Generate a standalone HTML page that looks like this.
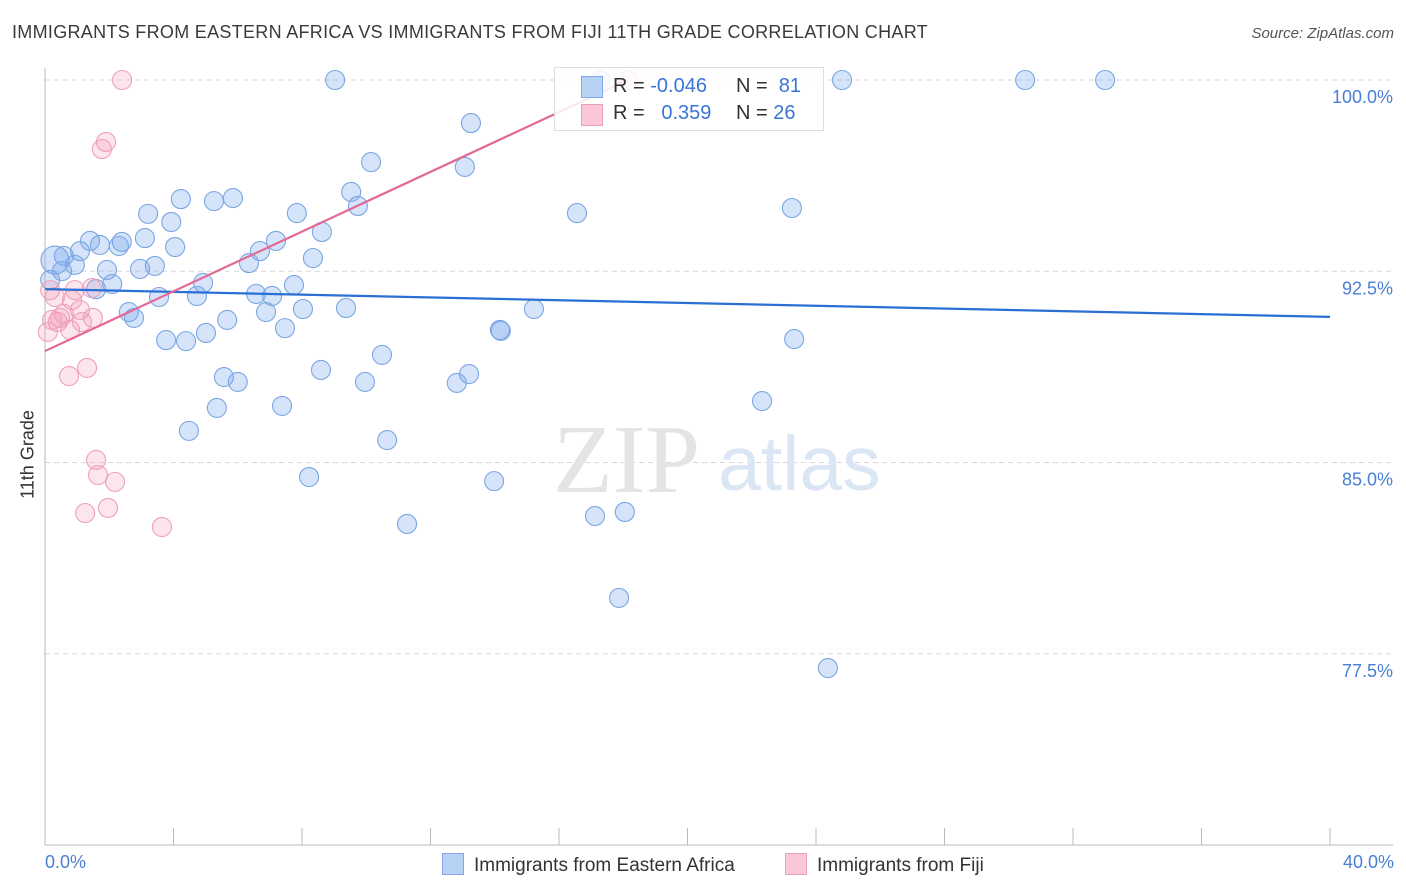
<!DOCTYPE html>
<html><head><meta charset="utf-8"><style>
body{margin:0;background:#fff;font-family:"Liberation Sans",sans-serif}
#c{position:relative;width:1406px;height:892px;overflow:hidden}
</style></head><body>
<div id="c">
<div style="position:absolute;left:12px;top:22px;font-size:18px;color:#3a3a3a;letter-spacing:0.3px;white-space:nowrap">IMMIGRANTS FROM EASTERN AFRICA VS IMMIGRANTS FROM FIJI 11TH GRADE CORRELATION CHART</div>
<div style="position:absolute;right:12px;top:25px;font-size:15px;color:#555;font-style:italic">Source: ZipAtlas.com</div>
<svg id="s" width="1406" height="892" style="position:absolute;left:0;top:0"></svg>
</div>
<script>
const yTicks=[100,92.5,85,77.5];
const yTickLabels=["100.0%","92.5%","85.0%","77.5%"];
const xTickVals=[4,8,12,16,20,24,28,32,36,40];
const blueX=[9.03,17.28,24.81,30.51,33.0,13.26,13.07,10.15,9.53,9.74,4.23,5.26,5.85,3.21,3.93,7.84,16.56,23.25,8.62,3.11,4.05,2.39,1.71,1.40,2.30,1.09,0.59,7.19,6.69,8.34,6.35,3.42,2.96,1.93,0.93,0.53,0.16,2.09,1.59,4.92,7.75,3.55,4.73,6.57,7.07,8.03,9.37,6.88,2.61,2.77,5.67,15.22,7.47,5.01,3.77,4.39,14.16,14.19,23.32,10.49,8.59,5.57,6.0,9.96,12.82,13.20,5.35,7.38,22.32,4.48,10.65,8.22,13.98,11.27,17.12,18.05,17.87,24.37];
const blueY=[100,100,100,100,100,98.31,96.59,96.78,95.61,95.06,95.33,95.25,95.37,94.75,94.43,94.78,94.78,94.98,94.04,93.80,93.45,93.65,93.53,93.69,93.49,93.29,93.10,93.69,93.29,93.02,92.82,92.71,92.59,92.55,92.75,92.51,92.16,92.0,91.80,92.04,91.96,91.49,91.53,91.61,91.53,91.02,91.06,90.90,90.90,90.67,90.59,91.02,90.27,90.08,89.80,89.76,90.20,90.16,89.84,89.22,88.63,88.35,88.16,88.16,88.12,88.47,87.14,87.22,87.41,86.24,85.88,84.43,84.27,82.59,82.90,83.06,79.69,76.94];
const pinkX=[2.40,18.15,1.90,1.77,0.16,0.31,0.93,1.46,0.84,1.09,0.59,0.40,1.49,0.09,0.78,0.47,1.31,0.75,1.59,1.65,2.18,1.25,1.96,3.64,0.22,1.15];
const pinkY=[100,100,97.57,97.29,91.76,91.49,91.76,91.84,91.37,90.98,90.82,90.51,90.67,90.12,90.20,90.67,88.71,88.39,85.10,84.51,84.24,83.02,83.22,82.47,90.59,90.51];
const blueTrendX=[0,40], blueTrendY=[91.80,90.71];
const pinkTrendX=[0,18.15], pinkTrendY=[89.37,100];
const big=[[0.31,92.94]];
const X=v=>45+v*32.125, Y=v=>80+(100-v)*25.5;
const s=document.getElementById('s'),NS='http://www.w3.org/2000/svg';
function mk(t,a){const e=document.createElementNS(NS,t);for(const k in a)e.setAttribute(k,a[k]);s.appendChild(e);return e;}
yTicks.forEach((t,i)=>{
 const g=mk('line',{x1:45,x2:1393,y1:Y(t),y2:Y(t),stroke:'#d8d8d8','stroke-dasharray':'5,4'});
 
 
 const l=mk('text',{x:1393,y:Y(t)+23,'text-anchor':'end','font-size':18,fill:'#4a7fd6','font-family':'Liberation Sans'});
 l.textContent=yTickLabels[i];
 
 
});
let a=mk('line',{x1:45,x2:45,y1:68,y2:845,stroke:'#bbb'});


a=mk('line',{x1:45,x2:1393,y1:845,y2:845,stroke:'#bbb'});


xTickVals.forEach(t=>{
 const e=mk('line',{x1:X(t),x2:X(t),y1:828,y2:845,stroke:'#bbb'});
 
 
});
let w=mk('text',{x:553,y:492,'font-size':98,fill:'#e4e4e4','font-family':'Liberation Serif'});w.textContent='ZIP';


w=mk('text',{x:718,y:490,'font-size':77,fill:'#dbe6f5','font-family':'Liberation Sans'});w.textContent='atlas';


blueX.forEach((x,i)=>{
 const c=mk('circle',{cx:X(x),cy:Y(blueY[i]),r:9.5,fill:'rgba(120,165,235,0.3)',stroke:'#7aa6e4','stroke-width':1.1});
 
 
});
big.forEach(p=>{const c=mk('circle',{cx:X(p[0]),cy:Y(p[1]),r:14,fill:'rgba(120,165,235,0.35)',stroke:'#7aa6e4','stroke-width':1.1});
 
 });
pinkX.forEach((x,i)=>{
 const c=mk('circle',{cx:X(x),cy:Y(pinkY[i]),r:9.5,fill:'rgba(245,150,180,0.25)',stroke:'#eea0bb','stroke-width':1.1});
 
 
});
let t=mk('line',{x1:X(blueTrendX[0]),y1:Y(blueTrendY[0]),x2:X(blueTrendX[1]),y2:Y(blueTrendY[1]),stroke:'#2a6fd6','stroke-width':2.2});


t=mk('line',{x1:X(pinkTrendX[0]),y1:Y(pinkTrendY[0]),x2:X(pinkTrendX[1]),y2:Y(pinkTrendY[1]),stroke:'#e46896','stroke-width':2.2});


</script>
<div style="position:absolute;left:-22px;top:444px;transform:rotate(-90deg);font-size:18px;color:#333;width:100px;text-align:center;white-space:nowrap">11th Grade</div>
<div style="position:absolute;left:45px;top:852px;font-size:18px;color:#4a7fd6">0.0%</div>
<div style="position:absolute;right:12px;top:852px;font-size:18px;color:#4a7fd6">40.0%</div>
<div style="position:absolute;left:554px;top:67px;width:268px;height:62px;border:1px solid #ddd;background:rgba(255,255,255,0.85);font-size:20px;color:#333">
 <div style="position:absolute;left:26px;top:8px;width:20px;height:20px;background:#b8d2f5;border:1px solid #7ea8e6"></div>
 <div style="position:absolute;left:58px;top:7px">R = <span style="color:#3a75d6">-0.046</span></div>
 <div style="position:absolute;left:181px;top:7px">N = <span style="color:#3a75d6">&nbsp;81</span></div>
 <div style="position:absolute;left:26px;top:36px;width:20px;height:20px;background:#fbc6d6;border:1px solid #eba0b9"></div>
 <div style="position:absolute;left:58px;top:34px">R = <span style="color:#3a75d6">&nbsp;&nbsp;0.359</span></div>
 <div style="position:absolute;left:181px;top:34px">N = <span style="color:#3a75d6">26</span></div>
</div>
<div style="position:absolute;left:442px;top:853px;font-size:19px;color:#333">
 <span style="display:inline-block;width:20px;height:20px;background:#b8d2f5;border:1px solid #7ea8e6;vertical-align:-4px;margin-right:10px"></span>Immigrants from Eastern Africa</div>
<div style="position:absolute;left:785px;top:853px;font-size:19px;color:#333">
 <span style="display:inline-block;width:20px;height:20px;background:#fbc6d6;border:1px solid #eba0b9;vertical-align:-4px;margin-right:10px"></span>Immigrants from Fiji</div>
</body></html>
